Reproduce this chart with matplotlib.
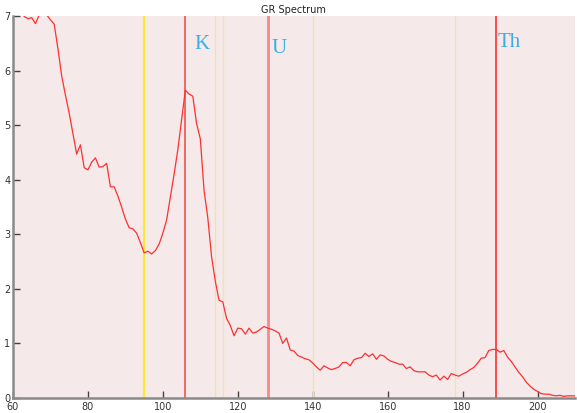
import numpy as np
import matplotlib.pyplot as plt

channel = np.arange(60, 211)
counts = [
    7.4, 7.3, 7.1, 6.99, 6.95, 6.97, 6.86, 7.02, 7.1, 7.02,
    6.93, 6.85, 6.40, 5.90, 5.55, 5.22, 4.85, 4.47, 4.64, 4.22,
    4.18, 4.32, 4.40, 4.23, 4.24, 4.30, 3.87, 3.87, 3.70, 3.50,
    3.28, 3.12, 3.10, 3.02, 2.85, 2.66, 2.69, 2.64, 2.70, 2.82,
    3.02, 3.26, 3.68, 4.10, 4.55, 5.10, 5.64, 5.57, 5.53, 5.03,
    4.75, 3.80, 3.30, 2.59, 2.14, 1.79, 1.76, 1.46, 1.33, 1.14,
    1.28, 1.27, 1.17, 1.28, 1.19, 1.21, 1.26, 1.31, 1.28, 1.26,
    1.23, 1.19, 1.00, 1.10, 0.88, 0.86, 0.78, 0.75, 0.72, 0.70,
    0.64, 0.57, 0.51, 0.59, 0.55, 0.52, 0.54, 0.57, 0.65, 0.65,
    0.59, 0.70, 0.73, 0.74, 0.82, 0.76, 0.81, 0.71, 0.79, 0.77,
    0.71, 0.67, 0.65, 0.62, 0.62, 0.54, 0.57, 0.50, 0.48, 0.48,
    0.48, 0.42, 0.39, 0.42, 0.33, 0.40, 0.34, 0.45, 0.42, 0.40,
    0.44, 0.47, 0.52, 0.56, 0.64, 0.73, 0.74, 0.87, 0.89, 0.89,
    0.84, 0.87, 0.75, 0.67, 0.57, 0.47, 0.39, 0.29, 0.22, 0.16,
    0.12, 0.08, 0.07, 0.07, 0.05, 0.04, 0.05, 0.03, 0.04, 0.04,
    0.04,
]

window_edges = [95, 114, 116, 140, 178]
peak_channels = [106, 128, 189]
peak_names = ['K', 'U', 'Th']
label_x = [108.4, 129.0, 189.3]
label_y = [6.47, 6.40, 6.52]

fig = plt.figure(figsize=(5.77, 4.13), dpi=100)
ax = fig.add_axes([0.0225, 0.0363, 0.974, 0.925])
ax.set_facecolor('#f5e9e9')

# window markers
for i, xv in enumerate(window_edges):
    if i == 0:
        ax.axvline(xv, color='#ffe833', lw=1.6, zorder=2)
    else:
        ax.axvline(xv, color='#ffee44', lw=0.8, zorder=2)

peak_colors = ['#f06868', '#f58a8a', '#ff3030']
peak_widths = [1.4, 2.0, 1.2]
for xv, c, w in zip(peak_channels, peak_colors, peak_widths):
    ax.axvline(xv, color=c, lw=w, zorder=2)

ax.plot(channel, counts, color='#ff3030', lw=0.9, zorder=3)

for name, xv, yv in zip(peak_names, label_x, label_y):
    ax.text(xv, yv, name, color='#3aaee6', fontsize=15,
            family='Liberation Serif', ha='left', va='center')

ax.set_xlim(60, 210)
ax.set_ylim(0, 7)
ax.set_xticks(np.arange(60, 201, 20))
ax.set_yticks(np.arange(0, 8, 1))

for s in ['top', 'right']:
    ax.spines[s].set_visible(False)
for s in ['left', 'bottom']:
    ax.spines[s].set_color('#8a8a8a')
    ax.spines[s].set_linewidth(1.8)

ax.tick_params(direction='in', length=5, width=1, color='#444444',
               labelsize=7, labelcolor='#333333')
ax.tick_params(axis='y', pad=2)
ax.tick_params(axis='x', pad=3)

fig.text(0.508, 0.988, 'GR Spectrum', ha='center', va='top', fontsize=7,
         color='#222222')

plt.savefig('out.png', dpi=100)
